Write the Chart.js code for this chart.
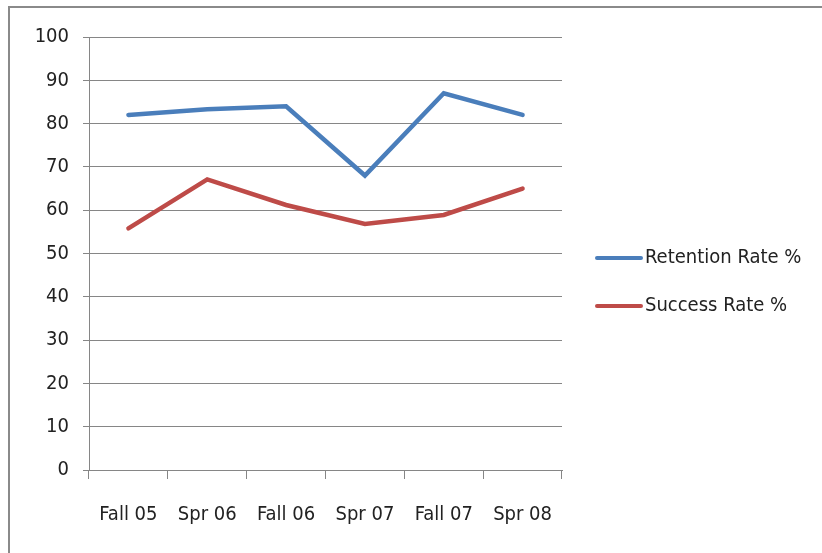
<!DOCTYPE html>
<html>
<head>
<meta charset="utf-8">
<script src="https://cdn.jsdelivr.net/npm/chart.js@4"></script>
<style>
html,body{margin:0;padding:0;background:#fff;}
#wrap{position:absolute;left:0;top:0;width:822px;height:553px;}
#frame{position:absolute;left:8px;top:6px;width:830px;height:560px;border-top:2px solid #8a8a8a;border-left:2px solid #8a8a8a;}
canvas{position:absolute;left:0;top:0;}
</style>
</head>
<body>
<div id="wrap">
<div id="frame"></div>
<canvas id="c" width="822" height="553"></canvas>
</div>
<script>
const categories = ["Fall 05","Spr 06","Fall 06","Spr 07","Fall 07","Spr 08"];
const retention = [82, 83.3, 84, 68, 87, 82];
const success = [55.8, 67.1, 61.2, 56.8, 58.9, 65];
const seriesNames = ["Retention Rate %","Success Rate %"];
const yTicks = [0,10,20,30,40,50,60,70,80,90,100];

const FONT = "'Liberation Sans Narrow','DejaVu Sans Condensed','Liberation Sans',sans-serif";

const legendPlugin = {
  id:'sideLegend',
  afterDraw(chart){
    const ctx = chart.ctx;
    const ds = chart.data.datasets;
    const x0 = 597, x1 = 641, ys = [258, 306];
    ctx.save();
    ds.forEach((d,i)=>{
      ctx.strokeStyle = d.borderColor;
      ctx.lineWidth = 4;
      ctx.lineCap = 'round';
      ctx.beginPath();
      ctx.moveTo(x0, ys[i]);
      ctx.lineTo(x1, ys[i]);
      ctx.stroke();
      ctx.fillStyle = '#222';
      ctx.font = "20px " + FONT;
      ctx.textBaseline = 'middle';
      ctx.textAlign = 'left';
      ctx.fillText(d.label, x1 + 4, ys[i]);
    });
    ctx.restore();
  }
};

new Chart(document.getElementById('c'), {
  type:'line',
  data:{
    labels: categories,
    datasets:[
      {label: seriesNames[0], data: retention, borderColor:'#4a7ebb', backgroundColor:'#4a7ebb', borderWidth:4.5, pointRadius:0, tension:0, borderCapStyle:'round', borderJoinStyle:'miter'},
      {label: seriesNames[1], data: success, borderColor:'#be4b48', backgroundColor:'#be4b48', borderWidth:4.5, pointRadius:0, tension:0, borderCapStyle:'round', borderJoinStyle:'miter'}
    ]
  },
  options:{
    responsive:false,
    animation:false,
    layout:{padding:{left:0, top:37, right:260, bottom:2}},
    plugins:{legend:{display:false}, tooltip:{enabled:false}},
    scales:{
      x:{
        offset:true,
        grid:{display:true, drawOnChartArea:false, offset:true, color:'#868686', tickLength:9, lineWidth:1},
        border:{display:true, color:'#868686', width:1},
        ticks:{color:'#222', font:{family:FONT, size:20}, padding:24, maxRotation:0, autoSkip:false}
      },
      y:{
        min:0, max:100,
        afterBuildTicks(axis){ axis.ticks = yTicks.map(v=>({value:v})); },
        afterFit(axis){ axis.width = 89; },
        grid:{color:'#868686', tickLength:6, lineWidth:1},
        border:{display:true, color:'#868686', width:1},
        ticks:{color:'#222', font:{family:FONT, size:20}, padding:14}
      }
    }
  },
  plugins:[legendPlugin]
});
</script>
</body>
</html>
